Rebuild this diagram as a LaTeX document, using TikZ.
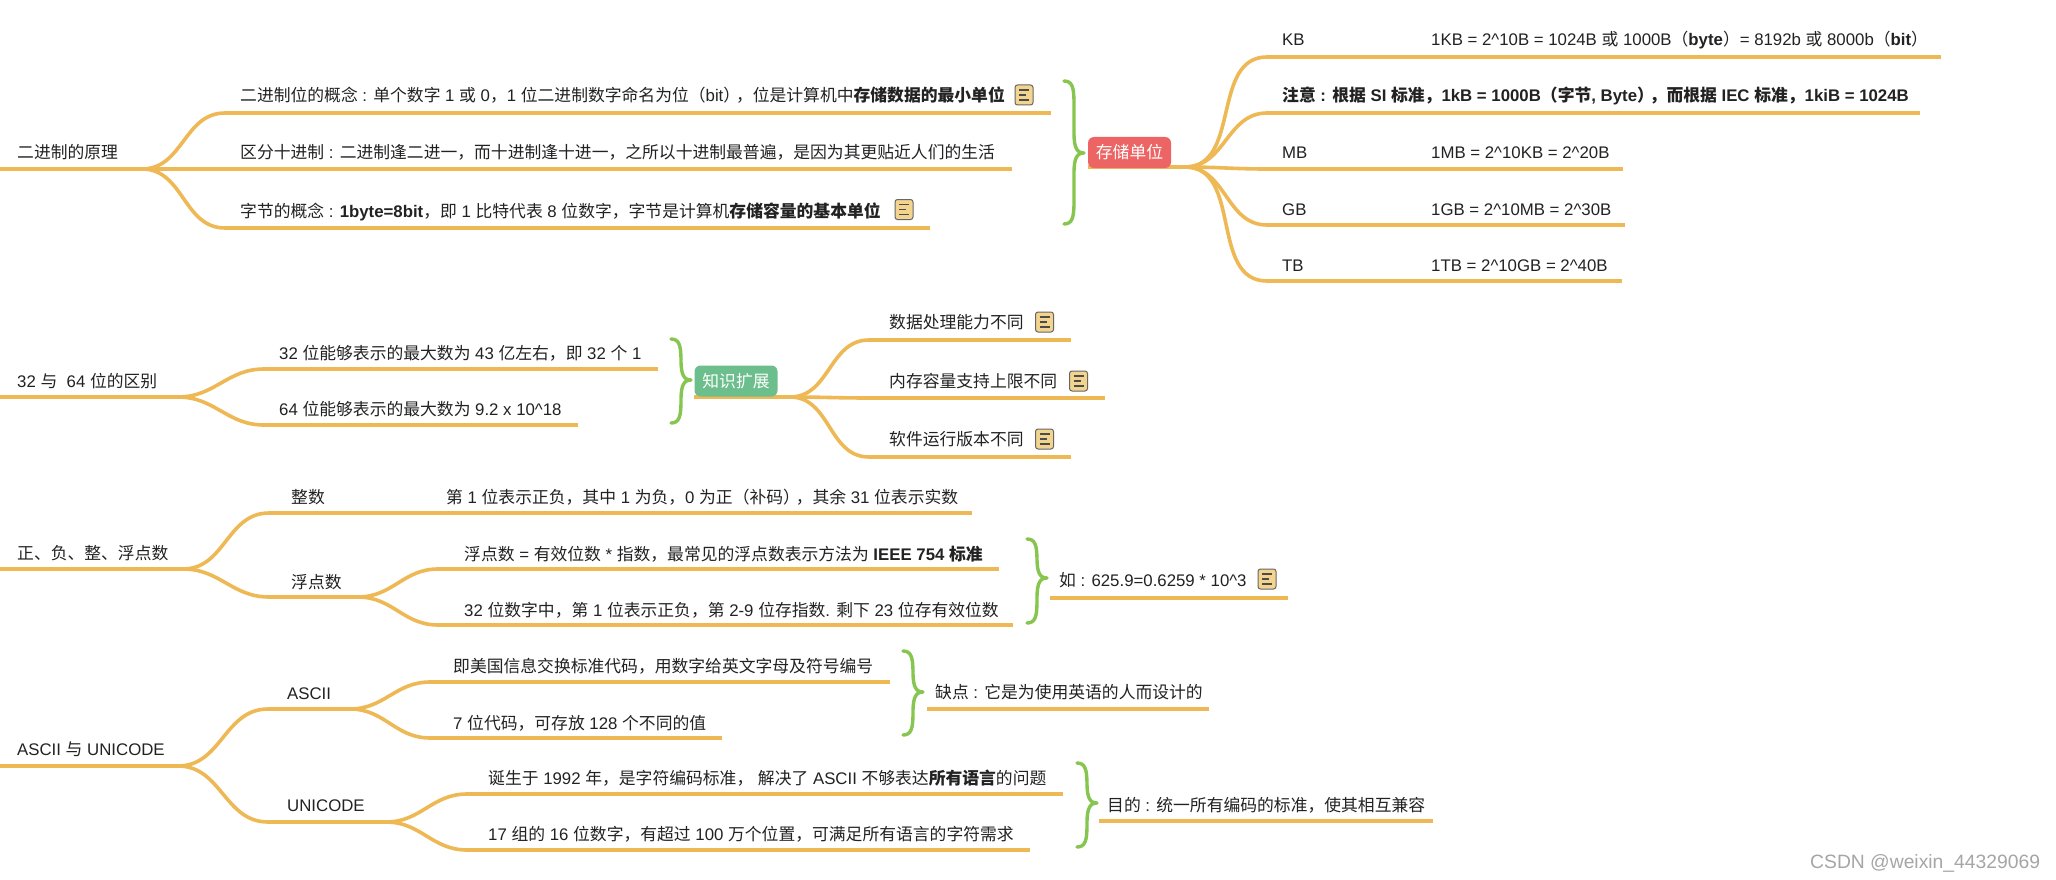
\documentclass[tikz,border=0pt]{standalone}
\usepackage{fontspec}
\setmainfont{Noto Sans CJK SC}
\newfontfamily\latf{Liberation Sans}
\newcommand{\la}[1]{{\latf #1}}
\definecolor{lineor}{HTML}{EEB955}
\definecolor{bracegr}{HTML}{86C54F}
\definecolor{redn}{HTML}{EC6464}
\definecolor{teal2}{HTML}{6CBE8C}
\definecolor{notef}{HTML}{F3D48E}
\definecolor{inkc}{HTML}{222222}
\tikzset{
  x=1pt,y=-1pt,
  txt/.style={anchor=base west,inner sep=0pt,text=inkc,font=\fontsize{16.8}{20}\selectfont},
  whitetxt/.style={rounded corners=6pt,inner sep=0pt,text=white,font=\fontsize{16.8}{20}\selectfont,minimum height=31pt},
  trunk/.style={draw=lineor,line width=4.3pt},
  curveline/.style={draw=lineor,line width=3.6pt,line cap=round},
  bracep/.style={draw=bracegr,line width=3.4pt,line cap=round,line join=round},
  notebox/.style={draw=black!60,fill=notef,rounded corners=2.5pt,line width=1pt,minimum width=18pt,minimum height=20pt,inner sep=0pt},
  noteline/.style={draw=black!70,line width=1.2pt},
  mark2/.style={anchor=base west,inner sep=0pt,text=black!35,font=\latf\fontsize{19.3}{24}\selectfont}
}
% branch: from junction #1 to a new underline #2 starting at x=#3, ending at x=#4, height #5
\newcommand{\branch}[5]{%
  \coordinate (#2s) at (#3,#5);
  \coordinate (#2e) at (#4,#5);
  \draw[curveline] (#1) to[out=0,in=180,looseness=1.05] (#2s);
  \draw[trunk] (#2s) -- (#2e);
}
% free underline
\newcommand{\uline}[4]{%
  \coordinate (#1s) at (#2,#4);
  \coordinate (#1e) at (#3,#4);
  \draw[trunk] (#1s) -- (#1e);
}
% note icon
\newcommand{\noteicon}[3]{%
  \node[notebox] (#1) at (#2,#3) {};
  \draw[noteline] ([shift={(-5,-5)}]#1.center) -- ([shift={(5,-5)}]#1.center);
  \draw[noteline] ([shift={(-5,0)}]#1.center) -- ([shift={(2,0)}]#1.center);
  \draw[noteline] ([shift={(-5,5)}]#1.center) -- ([shift={(5,5)}]#1.center);
}
% green brace: x, ytop, ytip, ybottom
\newcommand{\gbrace}[4]{%
  \draw[bracep] (#1,#2) .. controls (#1+8,#2) and (#1+10,#2+6) .. (#1+10,#2+22)
    -- (#1+10,#3-20) .. controls (#1+10,#3-5) and (#1+13,#3) .. (#1+20,#3)
    .. controls (#1+13,#3) and (#1+10,#3+5) .. (#1+10,#3+20)
    -- (#1+10,#4-22) .. controls (#1+10,#4-6) and (#1+8,#4) .. (#1,#4);
}
\newcommand{\pk}{\kern-.25em}
\begin{document}
\begin{tikzpicture}
\useasboundingbox (0,0) rectangle (2056,880);
\fill[white] (0,0) rectangle (2056,880);

% ---------- section 1
\coordinate (r1o) at (0,169);
\coordinate (r1j) at (142,169);
\draw[trunk] (r1o) -- (r1j);
\branch{r1j}{a1}{225}{1051}{113}
\branch{r1j}{a2}{225}{1012}{169}
\branch{r1j}{a3}{225}{930}{228}
\node[txt] (r1) at (17,159) {二进制的原理};
\node[txt] (a1t) at (240,102) {二进制位的概念\la{ : }单个数字\la{ 1 }或\la{ 0}，\la{1 }位二进制数字命名为位（\la{bit}）\pk，位是计算机中\textbf{存储数据的最小单位}};
\node[txt] (a2t) at (240,159) {区分十进制\la{ : }二进制逢二进一，而十进制逢十进一，之所以十进制最普遍，是因为其更贴近人们的生活};
\node[txt] (a3t) at (240,217) {字节的概念\la{ : }\textbf{\la{1byte=8bit}}，即\la{ 1 }比特代表\la{ 8 }位数字，字节是计算机\textbf{存储容量的基本单位}};
\noteicon{n1}{1024}{95}
\noteicon{n2}{904}{209.5}
\gbrace{1064}{81}{153}{224}

% ---------- storage units
\coordinate (s0o) at (1088,167);
\coordinate (s0j) at (1185,167);
\draw[trunk] (s0o) -- (s0j);
\branch{s0j}{k1}{1267}{1941}{57}
\branch{s0j}{k2}{1267}{1920}{113}
\branch{s0j}{k3}{1267}{1623}{169}
\branch{s0j}{k4}{1267}{1625}{225}
\branch{s0j}{k5}{1267}{1622}{281}
\node[whitetxt,fill=redn,minimum width=83pt] (s0) at (1129.5,152.5) {存储单位};
\node[txt] (k1t) at (1282,46) {\la{KB}};
\node[txt] (k1v) at (1431,46) {\la{1KB = 2\textasciicircum 10B = 1024B }或\la{ 1000B}（\textbf{\la{byte}}）\la{= 8192b }或\la{ 8000b}（\textbf{\la{bit}}）};
\node[txt] (k2t) at (1282,102) {\textbf{注意\la{ : }根据\la{ SI }标准，\la{1kB = 1000B}（字节\la{, Byte}）\pk，而根据\la{ IEC }标准，\la{1kiB = 1024B}}};
\node[txt] (k3t) at (1282,159) {\la{MB}};
\node[txt] (k3v) at (1431,159) {\la{1MB = 2\textasciicircum 10KB = 2\textasciicircum 20B}};
\node[txt] (k4t) at (1282,215) {\la{GB}};
\node[txt] (k4v) at (1431,215) {\la{1GB = 2\textasciicircum 10MB = 2\textasciicircum 30B}};
\node[txt] (k5t) at (1282,271) {\la{TB}};
\node[txt] (k5v) at (1431,271) {\la{1TB = 2\textasciicircum 10GB = 2\textasciicircum 40B}};

% ---------- section 2
\coordinate (r2o) at (0,397);
\coordinate (r2j) at (178,397);
\draw[trunk] (r2o) -- (r2j);
\branch{r2j}{b1}{264}{658}{369}
\branch{r2j}{b2}{264}{578}{425}
\node[txt] (r2) at (17,387) {\la{32 }与\la{\ \ 64 }位的区别};
\node[txt] (b1t) at (279,359) {\la{32 }位能够表示的最大数为\la{ 43 }亿左右，即\la{ 32 }个\la{ 1}};
\node[txt] (b2t) at (279,415) {\la{64 }位能够表示的最大数为\la{ 9.2 x 10\textasciicircum 18}};
\gbrace{671}{339}{380}{423}

\coordinate (e0o) at (694,397);
\coordinate (e0j) at (790,397);
\draw[trunk] (e0o) -- (e0j);
\branch{e0j}{e1}{869}{1071}{340}
\branch{e0j}{e2}{869}{1105}{398}
\branch{e0j}{e3}{869}{1071}{457}
\node[whitetxt,fill=teal2,minimum width=83pt] (e0) at (736,381) {知识扩展};
\node[txt] (e1t) at (889,328) {数据处理能力不同};
\node[txt] (e2t) at (889,387) {内存容量支持上限不同};
\node[txt] (e3t) at (889,445) {软件运行版本不同};
\noteicon{n3}{1044.5}{322}
\noteicon{n4}{1078.5}{381}
\noteicon{n5}{1044.5}{439}

% ---------- section 3
\coordinate (r3o) at (0,569);
\coordinate (r3j) at (183,569);
\draw[trunk] (r3o) -- (r3j);
\branch{r3j}{c1}{269}{972}{513}
\branch{r3j}{c2}{269}{370}{597}
\coordinate (c2j) at (358,597);
\branch{c2j}{d1}{438}{999}{569}
\branch{c2j}{d2}{438}{1013}{625}
\node[txt] (r3) at (17,559) {正、负、整、浮点数};
\node[txt] (c1t) at (291,503) {整数};
\node[txt] (c1v) at (446,503) {第\la{ 1 }位表示正负，其中\la{ 1 }为负，\la{0 }为正（补码）\pk，其余\la{ 31 }位表示实数};
\node[txt] (c2t) at (291,588) {浮点数};
\node[txt] (d1t) at (464,560) {浮点数\la{ = }有效位数\la{ * }指数，最常见的浮点数表示方法为\la{ }\textbf{\la{IEEE 754 }标准}};
\node[txt] (d2t) at (464,616) {\la{32 }位数字中，第\la{ 1 }位表示正负，第\la{ 2-9 }位存指数\la{. }剩下\la{ 23 }位存有效位数};
\gbrace{1027}{539}{578}{623}
\uline{f1}{1050}{1288}{598}
\node[txt] (f1t) at (1059,586) {如\la{ : 625.9=0.6259 * 10\textasciicircum 3}};
\noteicon{n6}{1267}{579}

% ---------- section 4
\coordinate (r4o) at (0,766);
\coordinate (r4j) at (178,766);
\draw[trunk] (r4o) -- (r4j);
\branch{r4j}{g1}{268}{356}{709}
\branch{r4j}{g2}{268}{393}{822}
\coordinate (g1j) at (350,709);
\coordinate (g2j) at (386,822);
\branch{g1j}{h1}{430}{890}{682}
\branch{g1j}{h2}{430}{722}{738}
\branch{g2j}{h3}{467}{1063}{794}
\branch{g2j}{h4}{467}{1030}{850}
\node[txt] (r4) at (17,755) {\la{ASCII }与\la{ UNICODE}};
\node[txt] (g1t) at (287,699) {\la{ASCII}};
\node[txt] (g2t) at (287,811) {\la{UNICODE}};
\node[txt] (h1t) at (453,672) {即美国信息交换标准代码，用数字给英文字母及符号编号};
\node[txt] (h2t) at (453,729) {\la{7 }位代码，可存放\la{ 128 }个不同的值};
\node[txt] (h3t) at (488,784) {诞生于\la{ 1992 }年，是字符编码标准，\la{ }解决了\la{ ASCII }不够表达\textbf{所有语言}的问题};
\node[txt] (h4t) at (488,840) {\la{17 }组的\la{ 16 }位数字，有超过\la{ 100 }万个位置，可满足所有语言的字符需求};
\gbrace{903}{651}{692}{735}
\uline{i1}{927}{1209}{709}
\node[txt] (i1t) at (935,698) {缺点\la{ : }它是为使用英语的人而设计的};
\gbrace{1077}{763}{803}{847}
\uline{i2}{1099}{1433}{821}
\node[txt] (i2t) at (1107,811) {目的\la{ : }统一所有编码的标准，使其相互兼容};

% ---------- watermark
\node[mark2] (wm) at (1810,868) {CSDN @weixin\_44329069};
\end{tikzpicture}
\end{document}
